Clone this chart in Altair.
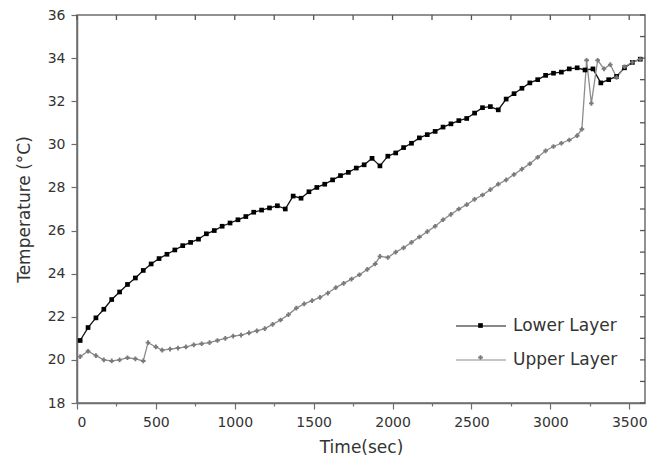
import altair as alt
import pandas as pd

series_names = ["Lower Layer", "Upper Layer"]
marker_keys = ["Lower Layer marker", "Upper Layer marker"]

time_lower = [20, 70, 120, 170, 220, 270, 320, 370, 420, 470, 520, 570, 620, 670, 720, 770,
              820, 870, 920, 970, 1020, 1070, 1120, 1170, 1220, 1270, 1320, 1370, 1420, 1470,
              1520, 1570, 1620, 1670, 1720, 1770, 1820, 1870, 1920, 1970, 2020, 2070, 2120,
              2170, 2220, 2270, 2320, 2370, 2420, 2470, 2520, 2570, 2620, 2670, 2720, 2770,
              2820, 2870, 2920, 2970, 3020, 3070, 3120, 3170, 3220, 3270, 3320, 3370, 3420,
              3470, 3520, 3570]
temp_lower = [20.9, 21.5, 21.95, 22.35, 22.8, 23.15, 23.5, 23.8, 24.15, 24.45, 24.7, 24.9,
              25.1, 25.3, 25.45, 25.6, 25.85, 26.0, 26.2, 26.35, 26.5, 26.65, 26.85, 26.95,
              27.05, 27.15, 27.0, 27.6, 27.5, 27.8, 28.0, 28.15, 28.35, 28.55, 28.7, 28.9,
              29.05, 29.35, 29.0, 29.45, 29.6, 29.85, 30.05, 30.3, 30.45, 30.6, 30.8, 30.95,
              31.1, 31.2, 31.45, 31.7, 31.75, 31.6, 32.1, 32.35, 32.6, 32.85, 33.0, 33.2,
              33.3, 33.35, 33.5, 33.55, 33.45, 33.5, 32.85, 33.0, 33.15, 33.55, 33.8, 33.95]

time_upper = [20, 70, 120, 170, 220, 270, 320, 370, 420, 450, 500, 540, 590, 640, 690, 740,
              790, 840, 890, 940, 990, 1040, 1090, 1140, 1190, 1240, 1290, 1340, 1390, 1440,
              1490, 1540, 1590, 1640, 1690, 1740, 1790, 1840, 1890, 1920, 1970, 2020, 2070,
              2120, 2170, 2220, 2270, 2320, 2370, 2420, 2470, 2520, 2570, 2620, 2670, 2720,
              2770, 2820, 2870, 2920, 2970, 3020, 3070, 3120, 3170, 3200, 3230, 3260, 3300,
              3340, 3380, 3420, 3470, 3520, 3570]
temp_upper = [20.15, 20.4, 20.2, 20.0, 19.95, 20.0, 20.1, 20.05, 19.95, 20.8, 20.6, 20.45,
              20.5, 20.55, 20.6, 20.7, 20.75, 20.8, 20.9, 21.0, 21.1, 21.15, 21.25, 21.35,
              21.45, 21.65, 21.85, 22.1, 22.4, 22.6, 22.75, 22.9, 23.1, 23.35, 23.55, 23.75,
              23.95, 24.2, 24.45, 24.8, 24.75, 25.0, 25.2, 25.45, 25.7, 25.95, 26.2, 26.5,
              26.75, 27.0, 27.2, 27.45, 27.65, 27.9, 28.15, 28.35, 28.6, 28.85, 29.1, 29.4,
              29.7, 29.9, 30.05, 30.2, 30.4, 30.7, 33.9, 31.9, 33.9, 33.5, 33.7, 33.1, 33.6,
              33.8, 33.95]

x_domain = [0, 3600]
y_domain = [18, 36]
x_tick_values = list(range(0, 3601, 250))
y_tick_values = list(range(18, 37, 1))

rows = []
for t, v in zip(time_lower, temp_lower):
    rows.append({"time": t, "temp": v, "series": series_names[0], "series_m": marker_keys[0]})
for t, v in zip(time_upper, temp_upper):
    rows.append({"time": t, "temp": v, "series": series_names[1], "series_m": marker_keys[1]})
df = pd.DataFrame(rows)

top_ticks_df = pd.DataFrame({"time": x_tick_values, "temp": [y_domain[1]] * len(x_tick_values)})
right_ticks_df = pd.DataFrame({"temp": y_tick_values, "time": [x_domain[1]] * len(y_tick_values)})

FONT = "DejaVu Sans"
TXT = "#333333"
AX = "#6e6e6e"

x_scale = alt.Scale(domain=x_domain, nice=False)
y_scale = alt.Scale(domain=y_domain, nice=False)

x_enc = alt.X(
    "time:Q",
    scale=x_scale,
    axis=alt.Axis(
        title="Time(sec)", values=x_tick_values,
        labelExpr="datum.value % 500 === 0 ? datum.label : ''",
        format="d",
        tickSize={"condition": {"test": "datum.value % 500 === 0", "value": 6}, "value": 3},
        labelPadding=6, titlePadding=10, grid=False,
        labelFont=FONT, labelFontSize=14, labelColor=TXT,
        titleFont=FONT, titleFontSize=17, titleFontWeight="normal", titleColor=TXT,
        domainColor=AX, domainWidth=1.5, tickColor=AX, tickWidth=1.2,
        labelOverlap=False,
    ),
)
y_enc = alt.Y(
    "temp:Q",
    scale=y_scale,
    axis=alt.Axis(
        title="Temperature (°C)", values=y_tick_values,
        labelExpr="datum.value % 2 === 0 ? datum.label : ''",
        tickSize={"condition": {"test": "datum.value % 2 === 0", "value": 6}, "value": 3},
        labelPadding=6, titlePadding=14, grid=False,
        labelFont=FONT, labelFontSize=14, labelColor=TXT,
        titleFont=FONT, titleFontSize=17, titleFontWeight="normal", titleColor=TXT,
        domainColor=AX, domainWidth=1.5, tickColor=AX, tickWidth=1.2,
        labelOverlap=False,
    ),
)

line_legend = alt.Legend(
    title=None, orient="none", legendX=378, legendY=285,
    symbolType="stroke", symbolSize=2500, symbolStrokeWidth=1.2,
    labelFont=FONT, labelFontSize=17, labelColor=TXT, labelOffset=6,
    rowPadding=-17, padding=0,
)
point_legend = alt.Legend(
    title=None, orient="none", legendX=395, legendY=302,
    symbolSize=22, labelOpacity=0, labelExpr="''",
    labelFont=FONT, labelFontSize=17, labelOffset=6,
    rowPadding=14, padding=0,
)

lines = alt.Chart(df).mark_line(strokeWidth=1.3).encode(
    x=x_enc, y=y_enc,
    stroke=alt.Stroke("series:N", scale=alt.Scale(domain=series_names, range=["#111111", "#8c8c8c"]),
                      legend=line_legend),
    order="time:Q",
)

points = alt.Chart(df).mark_point(filled=True, opacity=1, strokeWidth=0).encode(
    x=x_enc, y=y_enc,
    shape=alt.Shape("series_m:N", scale=alt.Scale(domain=marker_keys, range=["square", "cross"]),
                    legend=point_legend),
    fill=alt.Fill("series_m:N", scale=alt.Scale(domain=marker_keys, range=["#000000", "#7a7a7a"]),
                  legend=point_legend),
    size=alt.value(22),
)

# small inward tick marks along the top and right frame edges
top_ticks = alt.Chart(top_ticks_df).mark_rule(color="#555555", strokeWidth=1.3).encode(
    x=alt.X("time:Q", scale=x_scale),
    y=alt.Y("temp:Q", scale=y_scale),
    y2=alt.value(5),
)

right_ticks = alt.Chart(right_ticks_df).mark_rule(color="#555555", strokeWidth=1.3).encode(
    y=alt.Y("temp:Q", scale=y_scale),
    x=alt.X("time:Q", scale=x_scale),
    x2=alt.value(563),
)

chart = alt.layer(lines, points, top_ticks, right_ticks).properties(
    width=568, height=388,
    padding={"left": 77, "top": 15, "right": 3, "bottom": 64},
    autosize=alt.AutoSizeParams(type="none"),
    background="white",
).configure_view(stroke=AX, strokeWidth=1.5)

chart.save("out.html", embed_options={"renderer": "svg", "actions": False})
